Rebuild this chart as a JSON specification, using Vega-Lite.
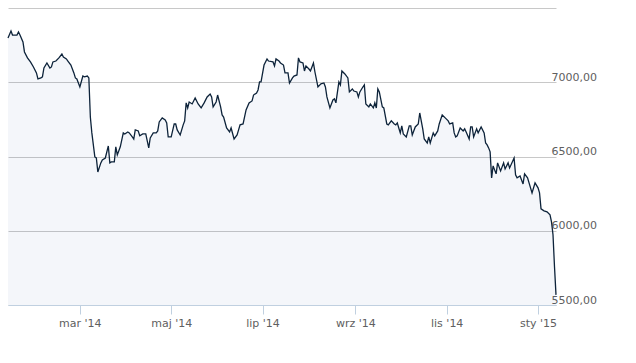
{
  "$schema": "https://vega.github.io/schema/vega-lite/v6.json",
  "width": 548,
  "height": 297,
  "autosize": {"type": "none"},
  "padding": {"left": 8, "top": 8, "right": 80, "bottom": 58},
  "background": "white",
  "config": {"view": {"stroke": null}, "font": "DejaVu Sans"},
  "data": {"values": [
    {"date":"2014-01-12","value":7298},{"date":"2014-01-14","value":7345},{"date":"2014-01-15","value":7318},{"date":"2014-01-18","value":7318},{"date":"2014-01-19","value":7338},{"date":"2014-01-20","value":7318},{"date":"2014-01-22","value":7271},{"date":"2014-01-23","value":7204},{"date":"2014-01-25","value":7164},{"date":"2014-01-27","value":7137},{"date":"2014-01-29","value":7103},{"date":"2014-01-31","value":7063},
    {"date":"2014-02-01","value":7022},{"date":"2014-02-03","value":7029},{"date":"2014-02-04","value":7036},{"date":"2014-02-05","value":7096},{"date":"2014-02-07","value":7130},{"date":"2014-02-09","value":7096},{"date":"2014-02-10","value":7103},{"date":"2014-02-11","value":7137},{"date":"2014-02-13","value":7143},{"date":"2014-02-15","value":7164},{"date":"2014-02-17","value":7190},{"date":"2014-02-18","value":7170},{"date":"2014-02-20","value":7157},{"date":"2014-02-21","value":7143},{"date":"2014-02-23","value":7116},{"date":"2014-02-25","value":7063},{"date":"2014-02-26","value":7029},{"date":"2014-02-27","value":7022},
    {"date":"2014-03-01","value":6968},{"date":"2014-03-03","value":7042},{"date":"2014-03-04","value":7036},{"date":"2014-03-06","value":7042},{"date":"2014-03-07","value":7029},{"date":"2014-03-08","value":6766},{"date":"2014-03-09","value":6659},{"date":"2014-03-11","value":6497},{"date":"2014-03-12","value":6490},{"date":"2014-03-13","value":6396},{"date":"2014-03-15","value":6457},{"date":"2014-03-16","value":6477},{"date":"2014-03-18","value":6490},{"date":"2014-03-20","value":6571},{"date":"2014-03-21","value":6457},{"date":"2014-03-22","value":6464},{"date":"2014-03-24","value":6464},{"date":"2014-03-25","value":6565},{"date":"2014-03-26","value":6511},{"date":"2014-03-28","value":6565},{"date":"2014-03-30","value":6659},{"date":"2014-03-31","value":6652},
    {"date":"2014-04-02","value":6665},{"date":"2014-04-03","value":6659},{"date":"2014-04-05","value":6632},{"date":"2014-04-06","value":6618},{"date":"2014-04-07","value":6679},{"date":"2014-04-09","value":6672},{"date":"2014-04-10","value":6639},{"date":"2014-04-12","value":6652},{"date":"2014-04-14","value":6652},{"date":"2014-04-16","value":6558},{"date":"2014-04-17","value":6625},{"date":"2014-04-19","value":6659},{"date":"2014-04-21","value":6659},{"date":"2014-04-22","value":6672},{"date":"2014-04-23","value":6733},{"date":"2014-04-25","value":6760},{"date":"2014-04-27","value":6746},{"date":"2014-04-28","value":6726},{"date":"2014-04-29","value":6632},
    {"date":"2014-05-01","value":6632},{"date":"2014-05-03","value":6719},{"date":"2014-05-04","value":6719},{"date":"2014-05-05","value":6679},{"date":"2014-05-07","value":6645},{"date":"2014-05-09","value":6713},{"date":"2014-05-10","value":6740},{"date":"2014-05-11","value":6861},{"date":"2014-05-12","value":6827},{"date":"2014-05-13","value":6867},{"date":"2014-05-15","value":6854},{"date":"2014-05-17","value":6894},{"date":"2014-05-19","value":6854},{"date":"2014-05-21","value":6827},{"date":"2014-05-23","value":6861},{"date":"2014-05-25","value":6901},{"date":"2014-05-27","value":6921},{"date":"2014-05-28","value":6901},{"date":"2014-05-29","value":6834},{"date":"2014-05-31","value":6867},
    {"date":"2014-06-01","value":6914},{"date":"2014-06-03","value":6834},{"date":"2014-06-04","value":6780},{"date":"2014-06-05","value":6766},{"date":"2014-06-07","value":6692},{"date":"2014-06-09","value":6665},{"date":"2014-06-10","value":6692},{"date":"2014-06-12","value":6618},{"date":"2014-06-14","value":6645},{"date":"2014-06-15","value":6679},{"date":"2014-06-16","value":6713},{"date":"2014-06-18","value":6719},{"date":"2014-06-20","value":6814},{"date":"2014-06-22","value":6861},{"date":"2014-06-24","value":6874},{"date":"2014-06-25","value":6914},{"date":"2014-06-27","value":6928},{"date":"2014-06-28","value":6948},{"date":"2014-06-29","value":7002},{"date":"2014-06-30","value":7002},
    {"date":"2014-07-02","value":7116},{"date":"2014-07-04","value":7157},{"date":"2014-07-05","value":7143},{"date":"2014-07-08","value":7137},{"date":"2014-07-09","value":7110},{"date":"2014-07-10","value":7157},{"date":"2014-07-12","value":7143},{"date":"2014-07-13","value":7130},{"date":"2014-07-15","value":7116},{"date":"2014-07-16","value":7063},{"date":"2014-07-18","value":7063},{"date":"2014-07-19","value":6995},{"date":"2014-07-21","value":7029},{"date":"2014-07-22","value":7042},{"date":"2014-07-24","value":7049},{"date":"2014-07-25","value":7164},{"date":"2014-07-26","value":7137},{"date":"2014-07-28","value":7130},{"date":"2014-07-29","value":7076},{"date":"2014-07-30","value":7110},
    {"date":"2014-08-01","value":7089},{"date":"2014-08-02","value":7076},{"date":"2014-08-04","value":7130},{"date":"2014-08-05","value":7069},{"date":"2014-08-07","value":6968},{"date":"2014-08-09","value":6989},{"date":"2014-08-11","value":6995},{"date":"2014-08-12","value":6968},{"date":"2014-08-13","value":6901},{"date":"2014-08-15","value":6827},{"date":"2014-08-17","value":6881},{"date":"2014-08-18","value":6888},{"date":"2014-08-19","value":6861},{"date":"2014-08-21","value":7002},{"date":"2014-08-22","value":6982},{"date":"2014-08-23","value":7076},{"date":"2014-08-25","value":7056},{"date":"2014-08-27","value":7029},{"date":"2014-08-28","value":6935},{"date":"2014-08-30","value":6955},{"date":"2014-08-31","value":6941},
    {"date":"2014-09-02","value":6935},{"date":"2014-09-03","value":6901},{"date":"2014-09-04","value":6935},{"date":"2014-09-06","value":6968},{"date":"2014-09-07","value":6982},{"date":"2014-09-08","value":6854},{"date":"2014-09-10","value":6834},{"date":"2014-09-11","value":6854},{"date":"2014-09-13","value":6827},{"date":"2014-09-14","value":6861},{"date":"2014-09-15","value":6827},{"date":"2014-09-16","value":6955},{"date":"2014-09-17","value":6935},{"date":"2014-09-19","value":6834},{"date":"2014-09-20","value":6827},{"date":"2014-09-22","value":6719},{"date":"2014-09-23","value":6713},{"date":"2014-09-25","value":6740},{"date":"2014-09-27","value":6719},{"date":"2014-09-28","value":6713},{"date":"2014-09-29","value":6726},{"date":"2014-09-30","value":6692},
    {"date":"2014-10-01","value":6659},{"date":"2014-10-02","value":6706},{"date":"2014-10-03","value":6652},{"date":"2014-10-05","value":6632},{"date":"2014-10-07","value":6706},{"date":"2014-10-08","value":6706},{"date":"2014-10-09","value":6645},{"date":"2014-10-11","value":6699},{"date":"2014-10-13","value":6719},{"date":"2014-10-14","value":6793},{"date":"2014-10-16","value":6686},{"date":"2014-10-17","value":6618},{"date":"2014-10-19","value":6591},{"date":"2014-10-20","value":6632},{"date":"2014-10-21","value":6591},{"date":"2014-10-23","value":6659},{"date":"2014-10-24","value":6639},{"date":"2014-10-26","value":6672},{"date":"2014-10-27","value":6719},{"date":"2014-10-29","value":6780},{"date":"2014-10-31","value":6760},
    {"date":"2014-11-02","value":6740},{"date":"2014-11-03","value":6719},{"date":"2014-11-05","value":6726},{"date":"2014-11-06","value":6659},{"date":"2014-11-07","value":6632},{"date":"2014-11-08","value":6639},{"date":"2014-11-10","value":6692},{"date":"2014-11-12","value":6672},{"date":"2014-11-13","value":6686},{"date":"2014-11-14","value":6665},{"date":"2014-11-16","value":6618},{"date":"2014-11-17","value":6699},{"date":"2014-11-18","value":6699},{"date":"2014-11-19","value":6632},{"date":"2014-11-21","value":6686},{"date":"2014-11-22","value":6659},{"date":"2014-11-24","value":6699},{"date":"2014-11-26","value":6659},{"date":"2014-11-27","value":6591},{"date":"2014-11-28","value":6578},{"date":"2014-11-29","value":6558},{"date":"2014-11-30","value":6531},
    {"date":"2014-12-01","value":6356},{"date":"2014-12-02","value":6437},{"date":"2014-12-04","value":6383},{"date":"2014-12-05","value":6457},{"date":"2014-12-07","value":6403},{"date":"2014-12-09","value":6457},{"date":"2014-12-10","value":6416},{"date":"2014-12-12","value":6457},{"date":"2014-12-13","value":6423},{"date":"2014-12-16","value":6490},{"date":"2014-12-17","value":6376},{"date":"2014-12-18","value":6356},{"date":"2014-12-20","value":6369},{"date":"2014-12-22","value":6315},{"date":"2014-12-23","value":6383},{"date":"2014-12-25","value":6356},{"date":"2014-12-26","value":6322},{"date":"2014-12-28","value":6255},{"date":"2014-12-30","value":6322},
    {"date":"2015-01-01","value":6289},{"date":"2015-01-02","value":6255},{"date":"2015-01-03","value":6147},{"date":"2015-01-05","value":6134},{"date":"2015-01-07","value":6127},{"date":"2015-01-09","value":6107},{"date":"2015-01-10","value":6060},{"date":"2015-01-11","value":5973},{"date":"2015-01-12","value":5757},{"date":"2015-01-13","value":5568}
  ]},
  "mark": {"type": "area", "fill": "#2f5597", "fillOpacity": 0.05, "line": {"color": "#0d233a", "strokeWidth": 1.3}},
  "encoding": {
    "x": {
      "field": "date", "type": "temporal",
      "scale": {"domain": [{"year": 2014, "month": 1, "date": 12}, {"year": 2015, "month": 1, "date": 13}]},
      "axis": {
        "title": null,
        "values": [{"year": 2014, "month": 3, "date": 1}, {"year": 2014, "month": 5, "date": 1}, {"year": 2014, "month": 7, "date": 1}, {"year": 2014, "month": 9, "date": 1}, {"year": 2014, "month": 11, "date": 1}, {"year": 2015, "month": 1, "date": 1}],
        "labelExpr": "['sty','lut','mar','kwi','maj','cze','lip','sie','wrz','paź','lis','gru'][month(datum.value)] + \" '\" + timeFormat(datum.value, '%y')",
        "grid": false,
        "domainColor": "#C0D0E0",
        "tickColor": "#C0D0E0",
        "tickSize": 9,
        "labelPadding": 3,
        "labelFont": "DejaVu Sans",
        "labelFontSize": 11,
        "labelColor": "#606060"
      }
    },
    "y": {
      "field": "value", "type": "quantitative",
      "scale": {"domain": [5500, 7500], "nice": false, "zero": false},
      "axis": {
        "title": null,
        "orient": "right",
        "values": [5500, 6000, 6500, 7000, 7500],
        "labelExpr": "datum.value == 7500 ? '' : replace(format(datum.value, '.2f'), '.', ',')",
        "domain": false,
        "ticks": false,
        "grid": true,
        "gridColor": "#C8C8C8",
        "gridOpacity": 1,
        "labelPadding": -5,
        "labelAlign": "left",
        "labelBaseline": "alphabetic",
        "labelOffset": -2,
        "labelFont": "DejaVu Sans",
        "labelFontSize": 11,
        "labelColor": "#606060"
      }
    },
    "y2": {"datum": 5500}
  }
}
